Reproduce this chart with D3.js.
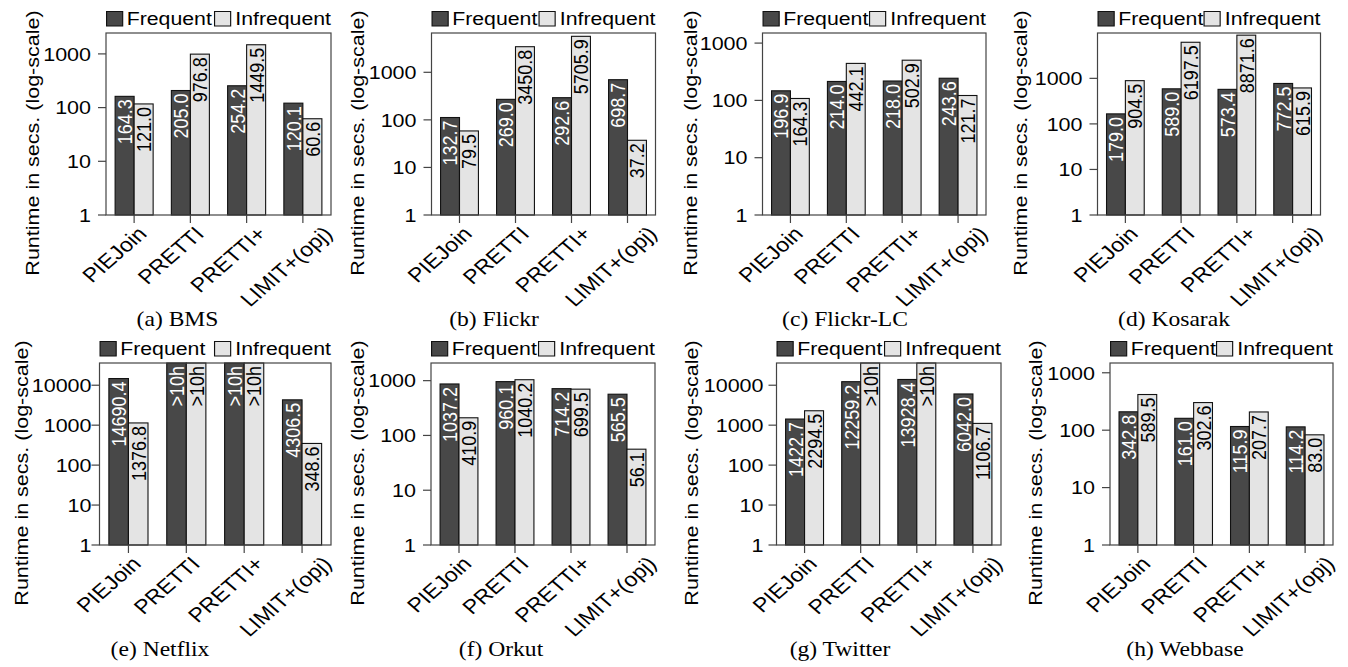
<!DOCTYPE html>
<html><head><meta charset="utf-8">
<script src="https://cdn.jsdelivr.net/npm/d3@7"></script>
<style>body{margin:0;background:#fff}svg{display:block}</style>
</head><body>
<svg id="chart" width="1348" height="667"></svg>
<script>
// ---------- data ----------
const categories = ["PIEJoin", "PRETTI", "PRETTI+", "LIMIT+(opj)"];
const seriesNames = ["Frequent", "Infrequent"];
const tickValues = [1, 10, 100, 1000, 10000];
const captions = ["(a) BMS", "(b) Flickr", "(c) Flickr-LC", "(d) Kosarak", "(e) Netflix", "(f) Orkut", "(g) Twitter", "(h) Webbase"];
const yTitle = "Runtime in secs. (log-scale)";

// bar heights as drawn (seconds)
const bmsFrequent = [162, 208, 255, 121];
const bmsInfrequent = [117, 990, 1480, 62];
const flickrFrequent = [112, 270, 292.6, 698.7];
const flickrInfrequent = [58.5, 3450.8, 5705.9, 37.2];
const flickrLCFrequent = [147, 214, 218, 243.6];
const flickrLCInfrequent = [108, 442.1, 502.9, 121.7];
const kosarakFrequent = [166, 589, 573.4, 772.5];
const kosarakInfrequent = [890, 6197.5, 8871.6, 615.9];
const netflixFrequent = [14690.4, 36000, 36000, 4306.5];
const netflixInfrequent = [1137, 36000, 36000, 348.6];
const orkutFrequent = [870, 960.1, 714.2, 565.5];
const orkutInfrequent = [210, 1040.2, 699.5, 56.1];
const twitterFrequent = [1422.7, 12259.2, 13928.4, 6042.0];
const twitterInfrequent = [2294.5, 36000, 36000, 1106.7];
const webbaseFrequent = [209, 161.0, 115.9, 114.2];
const webbaseInfrequent = [418, 302.6, 207.7, 83.0];

// value labels printed on the bars
const bmsFrequentLabels = ["164.3", "205.0", "254.2", "120.1"];
const bmsInfrequentLabels = ["121.0", "976.8", "1449.5", "60.6"];
const flickrFrequentLabels = ["132.7", "269.0", "292.6", "698.7"];
const flickrInfrequentLabels = ["79.5", "3450.8", "5705.9", "37.2"];
const flickrLCFrequentLabels = ["196.9", "214.0", "218.0", "243.6"];
const flickrLCInfrequentLabels = ["164.3", "442.1", "502.9", "121.7"];
const kosarakFrequentLabels = ["179.0", "589.0", "573.4", "772.5"];
const kosarakInfrequentLabels = ["904.5", "6197.5", "8871.6", "615.9"];
const netflixFrequentLabels = ["14690.4", ">10h", ">10h", "4306.5"];
const netflixInfrequentLabels = ["1376.8", ">10h", ">10h", "348.6"];
const orkutFrequentLabels = ["1037.2", "960.1", "714.2", "565.5"];
const orkutInfrequentLabels = ["410.9", "1040.2", "699.5", "56.1"];
const twitterFrequentLabels = ["1422.7", "12259.2", "13928.4", "6042.0"];
const twitterInfrequentLabels = ["2294.5", ">10h", ">10h", "1106.7"];
const webbaseFrequentLabels = ["342.8", "161.0", "115.9", "114.2"];
const webbaseInfrequentLabels = ["589.5", "302.6", "207.7", "83.0"];

// y-axis upper limits
const yMax = [2450, 6700, 1500, 9900, 36000, 2100, 36000, 1480];

const panels = [
  [bmsFrequent, bmsInfrequent, bmsFrequentLabels, bmsInfrequentLabels],
  [flickrFrequent, flickrInfrequent, flickrFrequentLabels, flickrInfrequentLabels],
  [flickrLCFrequent, flickrLCInfrequent, flickrLCFrequentLabels, flickrLCInfrequentLabels],
  [kosarakFrequent, kosarakInfrequent, kosarakFrequentLabels, kosarakInfrequentLabels],
  [netflixFrequent, netflixInfrequent, netflixFrequentLabels, netflixInfrequentLabels],
  [orkutFrequent, orkutInfrequent, orkutFrequentLabels, orkutInfrequentLabels],
  [twitterFrequent, twitterInfrequent, twitterFrequentLabels, twitterInfrequentLabels],
  [webbaseFrequent, webbaseInfrequent, webbaseFrequentLabels, webbaseInfrequentLabels]
];

// ---------- layout ----------
const layout = [
  {x0: 106,   x1: 331,   y0: 33,  y1: 215, tx: 32.5,   cx: 177.5, tg: 15},
  {x0: 431.5, x1: 655.5, y0: 33,  y1: 215, tx: 357,    cx: 494,   tg: 15},
  {x0: 762.5, x1: 986,   y0: 33,  y1: 215, tx: 690.5,  cx: 845,   tg: 15},
  {x0: 1097.5,x1: 1320.5,y0: 33,  y1: 215, tx: 1020.5, cx: 1174,  tg: 15},
  {x0: 99.5,  x1: 331,   y0: 363, y1: 545, tx: 21,     cx: 160,   tg: 8},
  {x0: 431,   x1: 655,   y0: 363, y1: 545, tx: 357,    cx: 501,   tg: 15},
  {x0: 776.5, x1: 1001,  y0: 363, y1: 545, tx: 691,    cx: 840,   tg: 13},
  {x0: 1110,  x1: 1333,  y0: 363, y1: 545, tx: 1035,   cx: 1185,  tg: 15}
];
const SX = 1.15;             // horizontal stretch of the original figure
const colors = ["#484848", "#e4e4e4"];
const FONT = "'Liberation Sans', Arial, Helvetica, sans-serif";
const SERIF = "'Liberation Serif', 'Times New Roman', serif";

const svg = d3.select("#chart");

panels.forEach((p, i) => {
  const L = layout[i];
  const g = svg.append("g");
  const W = L.x1 - L.x0;

  const x0 = d3.scaleBand().domain(categories).range([L.x0, L.x1]).padding(0);
  const x1 = d3.scaleBand().domain(seriesNames)
    .range([x0.bandwidth() * 0.162, x0.bandwidth() * 0.838]).padding(0);
  const y = d3.scaleLog().domain([1, yMax[i]]).range([L.y1, L.y0]).clamp(true);

  // bars
  const rows = categories.map((c, k) => ({c, k}));
  seriesNames.forEach((s, si) => {
    const vals = p[si], labs = p[si + 2];
    g.selectAll(null).data(rows).enter().append("rect")
      .attr("x", d => x0(d.c) + x1(s))
      .attr("y", d => y(vals[d.k]))
      .attr("width", x1.bandwidth())
      .attr("height", d => L.y1 - y(vals[d.k]))
      .attr("fill", colors[si])
      .attr("stroke", "#111").attr("stroke-width", 1.1);
    g.selectAll(null).data(rows).enter().append("text")
      .attr("transform", d => `translate(${x0(d.c) + x1(s) + x1.bandwidth() / 2},${y(vals[d.k]) + 3}) scale(${SX},1) rotate(-90)`)
      .attr("text-anchor", "end").attr("dy", "0.36em")
      .attr("font-family", FONT).attr("font-size", 18)
      .attr("fill", si === 0 ? "#fff" : "#000")
      .text(d => labs[d.k]);
  });

  // frame
  g.append("rect").attr("x", L.x0).attr("y", L.y0).attr("width", W).attr("height", L.y1 - L.y0)
    .attr("fill", "none").attr("stroke", "#444").attr("stroke-width", 1.2);

  // y axis ticks + labels
  const yt = tickValues.filter(v => v <= yMax[i]);
  g.selectAll(null).data(yt).enter().append("line")
    .attr("x1", L.x0 - 8).attr("x2", L.x0)
    .attr("y1", d => y(d)).attr("y2", d => y(d))
    .attr("stroke", "#444").attr("stroke-width", 1.2);
  g.selectAll(null).data(yt).enter().append("text")
    .attr("transform", d => `translate(${L.x0 - L.tg},${y(d)}) scale(${SX},1)`)
    .attr("text-anchor", "end").attr("dy", "0.36em")
    .attr("font-family", FONT).attr("font-size", 18.7).attr("fill", "#000")
    .text(d => d3.format("d")(d));

  // x ticks + labels
  g.selectAll(null).data(categories).enter().append("line")
    .attr("x1", d => x0(d) + x0.bandwidth() / 2).attr("x2", d => x0(d) + x0.bandwidth() / 2)
    .attr("y1", L.y1).attr("y2", L.y1 + 8)
    .attr("stroke", "#444").attr("stroke-width", 1.2);
  const xl = g.selectAll(null).data(categories).enter().append("text")
    .attr("text-anchor", "end").attr("dy", "0.36em")
    .attr("font-family", FONT).attr("font-size", 20).attr("fill", "#000")
    .text(d => d);
  xl.each(function (d) {
    const len = this.getComputedTextLength();
    const shift = 0.5 * (len - 69);
    d3.select(this).attr("transform",
      `translate(${x0(d) + x0.bandwidth() / 2 + 8 + shift},${L.y1 + 15}) scale(${SX},1) rotate(-45)`);
  });

  // y title
  g.append("text")
    .attr("transform", `translate(${L.tx},${(L.y0 + L.y1) / 2 + 19}) scale(0.88,1) rotate(-90)`)
    .attr("text-anchor", "middle").attr("dy", "0.36em")
    .attr("font-family", FONT).attr("font-size", 21.5).attr("fill", "#000")
    .text(yTitle);

  // legend
  const ly = L.y0 - 8;
  const lg1 = g.append("g").attr("transform", `translate(${L.x0},${ly}) scale(${SX},1)`);
  lg1.append("rect").attr("x", 0.5).attr("y", -13.5).attr("width", 14).attr("height", 14.5)
    .attr("fill", colors[0]).attr("stroke", "#111").attr("stroke-width", 1);
  lg1.append("text").attr("x", 18).attr("y", 0).attr("font-family", FONT).attr("font-size", 18.5)
    .text(seriesNames[0]);
  const lg2 = g.append("g").attr("transform", `translate(${L.x1},${ly}) scale(${SX},1)`);
  const t2 = lg2.append("text").attr("x", 0).attr("y", 0).attr("text-anchor", "end")
    .attr("font-family", FONT).attr("font-size", 18.5).text(seriesNames[1]);
  const tl = t2.node().getComputedTextLength();
  lg2.append("rect").attr("x", -tl - 18).attr("y", -13.5).attr("width", 14).attr("height", 14.5)
    .attr("fill", colors[1]).attr("stroke", "#111").attr("stroke-width", 1);

  // caption
  g.append("text")
    .attr("transform", `translate(${L.cx},${L.y1 + 111}) scale(${SX},1)`)
    .attr("text-anchor", "middle")
    .attr("font-family", SERIF).attr("font-size", 20.5).attr("fill", "#000")
    .text(captions[i]);
});
</script>
</body></html>
